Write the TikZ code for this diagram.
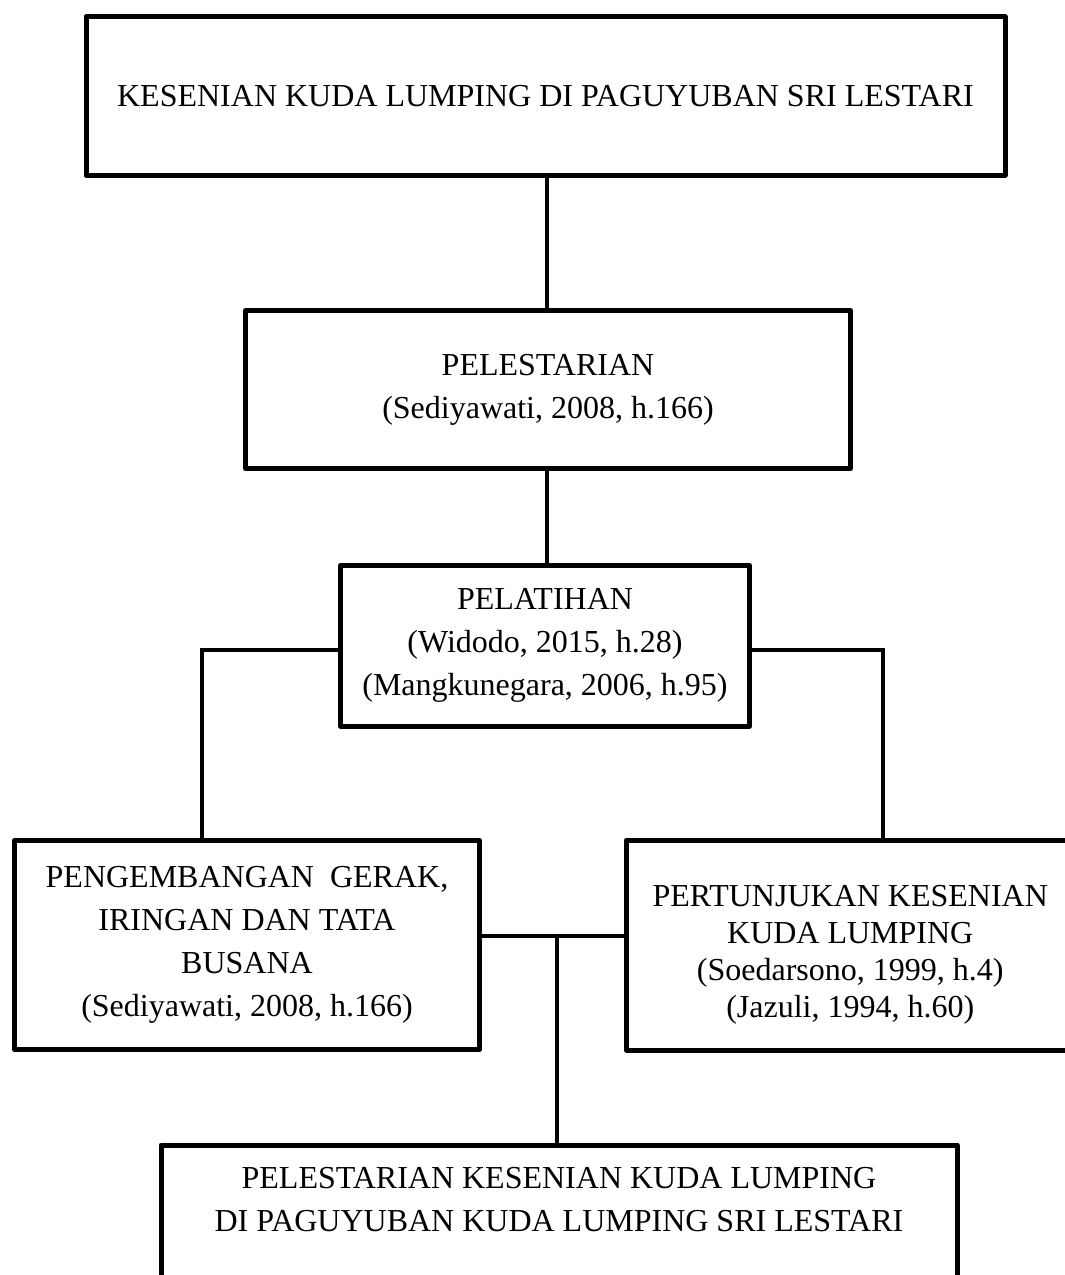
\documentclass[tikz,border=0pt]{standalone}
\usepackage{fontspec}
\setmainfont{Liberation Serif}
\begin{document}
\begin{tikzpicture}[x=1pt,y=-1pt,
  box/.style={draw, line width=5pt, inner sep=0pt, align=center, line join=round,
              font=\fontsize{32}{43}\selectfont},
  tightbox/.style={box, font=\fontsize{32}{37}\selectfont},
  link/.style={line width=3.5pt}]
\useasboundingbox (0,0) rectangle (1065,1275);
\clip (0,0) rectangle (1065,1275);
\node[box, minimum width=919pt, minimum height=158.5pt] (top) at (545.5,96)
  {KESENIAN KUDA LUMPING DI PAGUYUBAN SRI LESTARI};
\node[box, minimum width=605pt, minimum height=158pt] (pls) at (548,389.5)
  {PELESTARIAN\\(Sediyawati, 2008, h.166)};
\node[box, minimum width=409pt, minimum height=160.5pt] (pel) at (545,645.75)
  {PELATIHAN\\(Widodo, 2015, h.28)\\(Mangkunegara, 2006, h.95)};
\node[box, minimum width=465pt, minimum height=209pt] (left) at (247,945)
  {PENGEMBANGAN\ \ GERAK,\\IRINGAN DAN TATA\\BUSANA\\(Sediyawati, 2008, h.166)};
\node[tightbox, minimum width=447.5pt, minimum height=210pt] (right) at (850.25,945)
  {\rule{0pt}{40pt}PERTUNJUKAN KESENIAN\\KUDA LUMPING\\(Soedarsono, 1999, h.4)\\(Jazuli, 1994, h.60)};
\node[box, minimum width=796pt, minimum height=164pt] (bot) at (559,1227)
  {PELESTARIAN KESENIAN KUDA LUMPING\\DI PAGUYUBAN KUDA LUMPING SRI LESTARI\\\strut};
\coordinate (mj) at (557,936);
\draw[link] (top.south -| 547,0) -- (pls.north -| 547,0);
\draw[link] (pls.south -| 547,0) -- (pel.north -| 547,0);
\draw[link] (pel.west |- 0,650) -| (left.north -| 202,0);
\draw[link] (pel.east |- 0,650) -| (right.north -| 883,0);
\draw[link] (left.east |- mj) -- (right.west |- mj);
\draw[link] (mj) -- (bot.north -| mj);
\end{tikzpicture}
\end{document}
